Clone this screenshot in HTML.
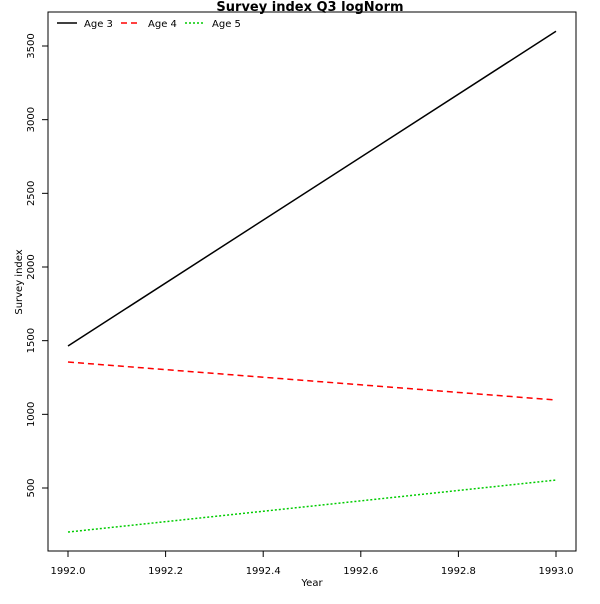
<!DOCTYPE html>
<html><head><meta charset="utf-8"><style>
body{margin:0;background:#fff;font-family:"DejaVu Sans","Liberation Sans",sans-serif;}
svg text{font-family:"DejaVu Sans","Liberation Sans",sans-serif;}
</style></head><body>
<svg id="chart" width="600" height="600" xmlns="http://www.w3.org/2000/svg">
<rect width="600" height="600" fill="#fff"/>
<text x="310" y="11" text-anchor="middle" font-size="13" font-weight="bold">Survey index Q3 logNorm</text>
<rect x="48" y="12" width="528" height="539" fill="none" stroke="#000"/>
<g id="xaxis"></g><g id="yaxis"></g><g id="series"></g>
<text x="312" y="586" text-anchor="middle" font-size="10">Year</text>
<text transform="translate(22,282) rotate(-90)" text-anchor="middle" font-size="10">Survey index</text>
<g>
<g><line x1="57" y1="23" x2="77" y2="23" stroke="#000" stroke-width="1.5"/><text x="84" y="27" font-size="10">Age 3</text></g>
<g><line x1="121" y1="23" x2="141" y2="23" stroke="#f00" stroke-width="1.5" stroke-dasharray="6,4"/><text x="148" y="27" font-size="10">Age 4</text></g>
<g><line x1="185" y1="23" x2="205" y2="23" stroke="#0c0" stroke-width="1.5" stroke-dasharray="2,2"/><text x="212" y="27" font-size="10">Age 5</text></g>
</g>
</svg>
<script>
const years=[1992,1993];
const age3=[1464,3600];
const age4=[1355,1097];
const age5=[201,554];
const xTicks=[1992.0,1992.2,1992.4,1992.6,1992.8,1993.0];
const yTicks=[500,1000,1500,2000,2500,3000,3500];
const NS="http://www.w3.org/2000/svg";
function xs(v){return 68+(v-1992)*488;}
function ys(v){return 488-(v-500)*(442/3000);}
function mk(t,a,p){const e=document.createElementNS(NS,t);for(const k in a)e.setAttribute(k,a[k]);p.appendChild(e);return e;}
const xa=document.getElementById('xaxis'),ya=document.getElementById('yaxis'),sg=document.getElementById('series');
xTicks.forEach(t=>{const x=xs(t);
const l=mk('line',{x1:x,y1:551,x2:x,y2:557,stroke:'#000'},xa);


const tx=mk('text',{x:x,y:574,'text-anchor':'middle','font-size':10},xa);tx.textContent=t.toFixed(1);

});
yTicks.forEach(t=>{const y=ys(t);
const l=mk('line',{x1:42,y1:y,x2:48,y2:y,stroke:'#000'},ya);


const tx=mk('text',{transform:`translate(34,${y}) rotate(-90)`,'text-anchor':'middle','font-size':10},ya);tx.textContent=t;

});
[[age3,'#000','','age-3-line'],[age4,'#f00','6,4','age-4-line'],[age5,'#0c0','2,2','age-5-line']].forEach(([d,c,da,n])=>{
const pts=d.map((v,i)=>xs(years[i])+','+ys(v)).join(' ');
const p=mk('polyline',{points:pts,fill:'none',stroke:c,'stroke-width':1.5},sg);
if(da)p.setAttribute('stroke-dasharray',da);

});
</script>
</body></html>
